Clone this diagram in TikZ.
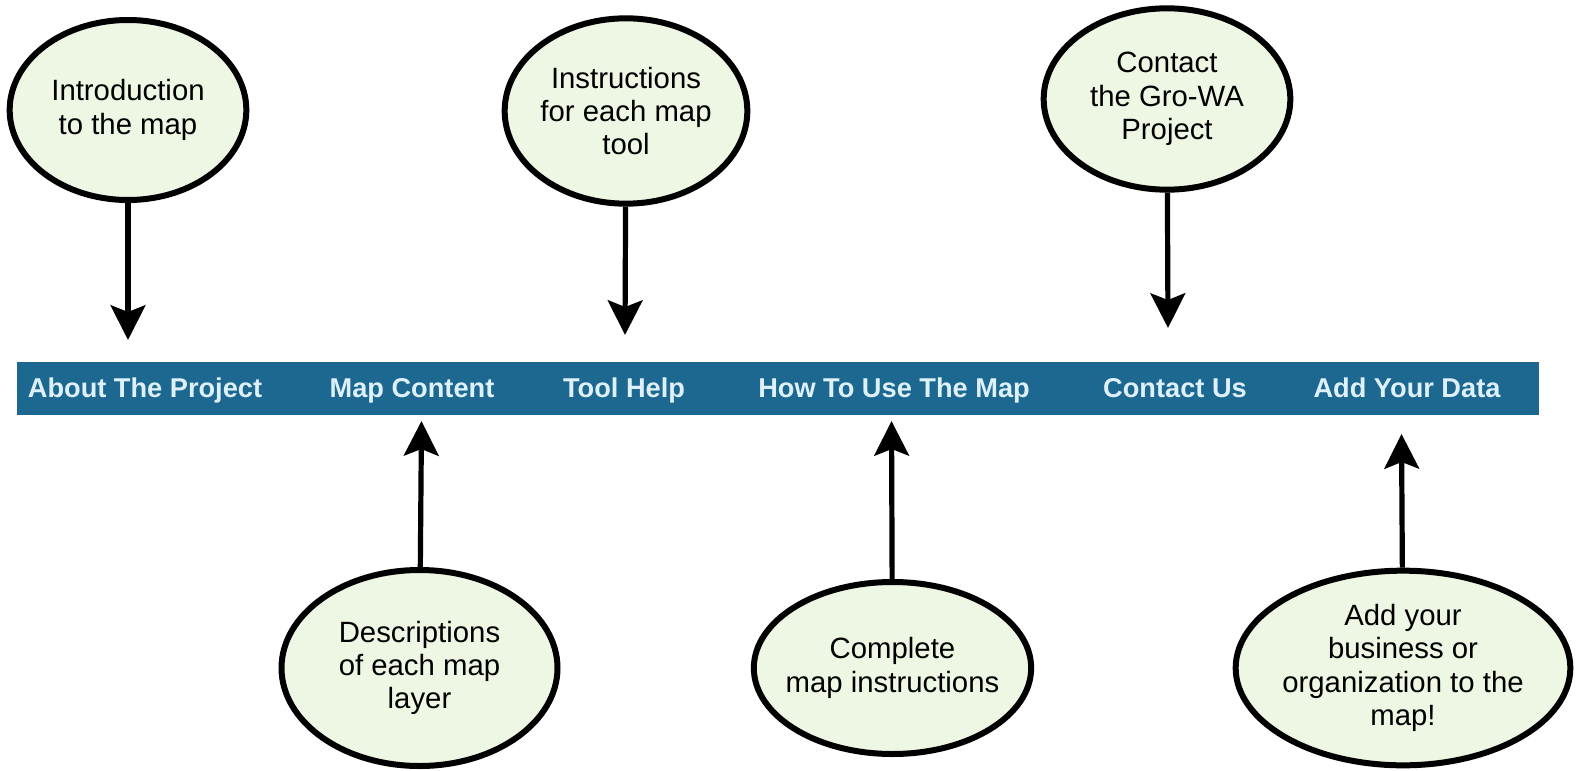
\documentclass[tikz,border=0pt]{standalone}
\usepackage{fontspec}
\setmainfont{Liberation Sans}
\usetikzlibrary{shapes.geometric,arrows.meta}

\definecolor{barblue}{RGB}{28,104,144}
\definecolor{bubblefill}{RGB}{238,246,228}
\definecolor{menutext}{RGB}{222,240,250}

\tikzset{
  bubble/.style={ellipse, draw=black, fill=bubblefill, line width=4.5pt, inner xsep=-12pt, inner ysep=0pt, align=center, font=\fontsize{22}{25}\selectfont},
  menuitem/.style={anchor=base, text=menutext, inner sep=0.75pt, font=\fontsize{20.4}{24}\selectfont\bfseries},
  pointer/.style={line width=3.9pt, -{Stealth[length=26pt,width=26pt,inset=5pt]}}
}

\begin{document}
\begin{tikzpicture}[x=0.75pt,y=0.75pt,yscale=-1,xscale=1]
\useasboundingbox (0,0) rectangle (1578,771);

%Menu bar
\fill [barblue] (17,362) rectangle (1539,415);
% Text Node
\node [menuitem] (about) at (145,397) {About The Project};
% Text Node
\node [menuitem] (content) at (412,397) {Map Content};
% Text Node
\node [menuitem] (toolhelp) at (624,397) {Tool Help};
% Text Node
\node [menuitem] (howto) at (894,397) {How To Use The Map};
% Text Node
\node [menuitem] (contact) at (1175,397) {Contact Us};
% Text Node
\node [menuitem] (adddata) at (1407,397) {Add Your Data};

% Ellipse Node
\node [bubble, minimum width=177.5pt, minimum height=135pt] (intro) at (128,110) {Introduction\\to the map};
% Ellipse Node
\node [bubble, minimum width=182pt, minimum height=139pt] (instr) at (626,111) {Instructions\\for each map\\tool};
% Ellipse Node
\node [bubble, minimum width=185pt, minimum height=136pt] (reach) at (1167,99) {Contact\\the Gro-WA\\Project};
% Ellipse Node
\node [bubble, minimum width=207pt, minimum height=147pt] (layers) at (419.5,668) {Descriptions\\of each map\\layer};
% Ellipse Node
\node [bubble, minimum width=208pt, minimum height=129pt] (guide) at (892.5,668) {Complete\\map instructions};
% Ellipse Node
\node [bubble, minimum width=251pt, minimum height=146pt] (business) at (1403,668) {Add your\\business or\\organization to the\\map!};

%Arrow ends
\coordinate (introtip) at (128,340);
\coordinate (instrtip) at (625,335);
\coordinate (reachtip) at (1168,328);
\coordinate (layerstip) at (421.5,421);
\coordinate (guidetip) at (891.5,421);
\coordinate (businesstip) at (1401.5,434);

%Straight Lines
\draw [pointer] (intro) -- (introtip);
\draw [pointer] (instr) -- (instrtip);
\draw [pointer] (reach) -- (reachtip);
\draw [pointer] (layers) -- (layerstip);
\draw [pointer] (guide) -- (guidetip);
\draw [pointer] (business) -- (businesstip);

\end{tikzpicture}
\end{document}
